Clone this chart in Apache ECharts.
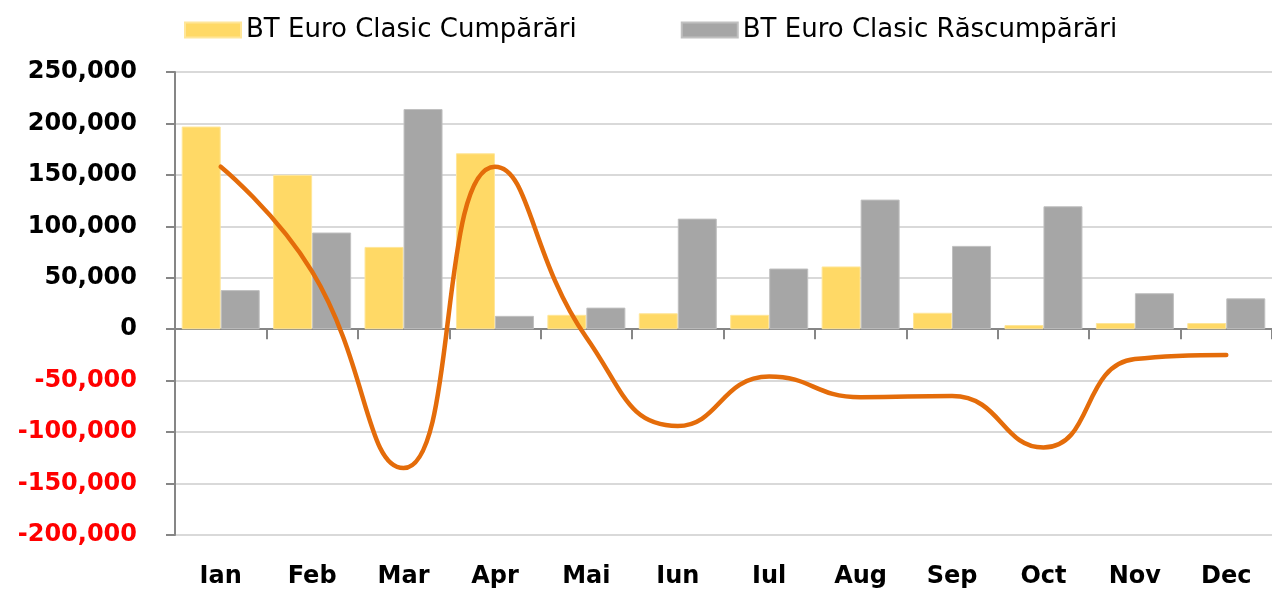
<!DOCTYPE html>
<html>
<head>
<meta charset="utf-8">
<script src="https://cdn.jsdelivr.net/npm/echarts@6/dist/echarts.min.js"></script>
<style>
html, body { margin: 0; padding: 0; background: #fff; }
#chart { width: 1272px; height: 591px; }
</style>
</head>
<body>
<div id="chart"></div>
<script>
// date lunare
const months = ['Ian', 'Feb', 'Mar', 'Apr', 'Mai', 'Iun', 'Iul', 'Aug', 'Sep', 'Oct', 'Nov', 'Dec'];
const cumparari = [197000, 150000, 80000, 171000, 14000, 15500, 14000, 61000, 16000, 4000, 6000, 6000];
const rascumparari = [38000, 94000, 214000, 13000, 21000, 107500, 59000, 126000, 81000, 119500, 35000, 30000];
const net = [158000, 56000, -135000, 158000, -8000, -94000, -46000, -66000, -65000, -115000, -29000, -25000];
const yMin = -200000
const yMax = 250000
const yStep = 50000

const chart = echarts.init(document.getElementById('chart'));
chart.setOption({
    animation: false,
    legend: {
        left: 179,
        top: 12,
        icon: 'rect',
        itemWidth: 56,
        itemHeight: 15,
        itemGap: 104,
        data: ['BT Euro Clasic Cumpărări', 'BT Euro Clasic Răscumpărări'],
        textStyle: {
            fontFamily: 'DejaVu Sans',
            fontSize: 26,
            color: '#000'
        }
    },
    grid: {
        left: 175,
        top: 72,
        width: 1099,
        height: 463
    },
    xAxis: [{
        type: 'category',
        data: months,
        position: 'bottom',
        axisLine: { show: false, onZero: false },
        axisTick: { show: false },
        axisLabel: {
            margin: 30,
            fontFamily: 'DejaVu Sans',
            fontWeight: 'bold',
            fontSize: 24,
            color: '#000'
        }
    }, {
        // axa de la zero, doar linie si tick-uri
        type: 'category',
        data: months,
        position: 'bottom',
        axisLine: {
            onZero: true,
            lineStyle: { color: '#868686', width: 2 }
        },
        axisTick: {
            show: true,
            length: 10,
            lineStyle: { color: '#868686', width: 2 }
        },
        axisLabel: { show: false }
    }],
    yAxis: [{
        type: 'value',
        min: yMin,
        max: yMax,
        interval: yStep,
        axisLine: {
            show: true,
            lineStyle: { color: '#868686', width: 2 }
        },
        axisTick: {
            show: true,
            length: 9,
            lineStyle: { color: '#868686', width: 2 }
        },
        splitLine: {
            lineStyle: { color: '#D9D9D9', width: 2 }
        },
        axisLabel: {
            margin: 38,
            fontFamily: 'DejaVu Sans',
            fontWeight: 'bold',
            fontSize: 24,
            color: function (v) {
                return v < 0 ? '#FF0000' : '#000';
            },
            formatter: function (v) {
                return v.toLocaleString('en-US');
            }
        }
    }],
    series: [
        {
            name: 'BT Euro Clasic Cumpărări',
            type: 'bar',
            data: cumparari,
            barWidth: 39,
            barGap: '0%',
            itemStyle: { color: '#FFD966', borderColor: '#FFE699', borderWidth: 1 }
        },
        {
            name: 'BT Euro Clasic Răscumpărări',
            type: 'bar',
            data: rascumparari,
            barWidth: 39,
            barGap: '0%',
            itemStyle: { color: '#A6A6A6', borderColor: '#C0C0C0', borderWidth: 1 }
        },
        {
            name: 'Net',
            type: 'line',
            data: net,
            smooth: 0.5,
            symbol: 'none',
            z: 5,
            lineStyle: { color: '#E46C0A', width: 4.5, cap: 'round' }
        }
    ]
})
</script>
</body>
</html>
